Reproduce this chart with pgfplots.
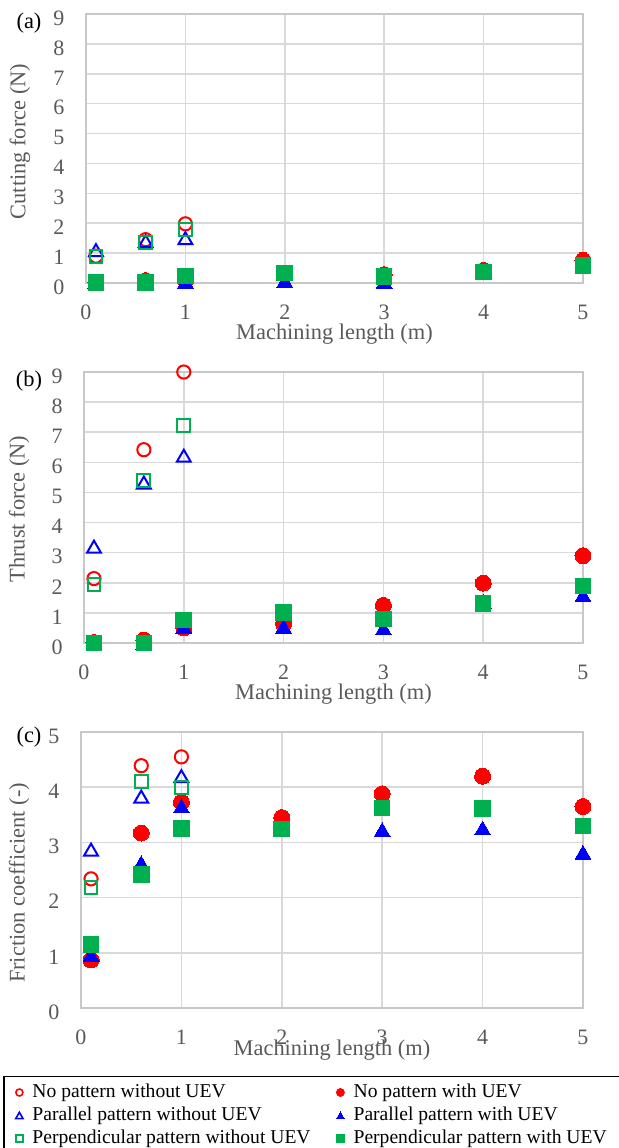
\documentclass[border=0pt]{standalone}
\usepackage{pgfplots}
\pgfplotsset{compat=1.18}
\usepackage{fontspec}
\setmainfont{Liberation Serif}
\definecolor{cred}{HTML}{FF0000}
\definecolor{cblue}{HTML}{0000FF}
\definecolor{cgreen}{HTML}{00B050}
\definecolor{tickgray}{HTML}{595959}
\definecolor{gridgray}{HTML}{D9D9D9}
\definecolor{framegray}{HTML}{C8C8C8}
\newcommand{\lbl}{\fontsize{11.2}{13}\selectfont}
\newcommand{\tlbl}{\fontsize{11}{13}\selectfont}
\newcommand{\albl}{\fontsize{11.2}{13}\selectfont}
\pgfplotsset{
  panel/.style={
    scale only axis, clip=false,
    xmin=0, xmax=5, ymin=0,
    xtick={0,1,2,3,4,5},
    grid=major,
    major grid style={draw=gridgray, line width=0.75pt},
    axis line style={draw=framegray, line width=0.9pt},
    major tick length=0pt,
    tick style={draw=none},
    tick label style={font=\tlbl, text=tickgray, inner sep=1pt},
    /pgf/number format/assume math mode=true,
    xticklabel style={anchor=center, yshift=-14.5pt},
    yticklabel style={anchor=center, xshift=-13.5pt, yshift=-2pt},
    xlabel={Machining length (m)},
    every axis x label/.style={at={(axis description cs:0.5,0)}, anchor=center, yshift=-25.5pt, inner sep=0pt, font=\albl, text=tickgray},
  },
  oc/.style={only marks, color=cred, mark=o, mark size=3.3pt, mark options={draw=cred, line width=1pt},
     legend image code/.code={\draw[cred, line width=0.8pt] (0.1cm,0cm) circle (1.75pt);}},
  fc/.style={only marks, color=cred, mark=*, mark size=4pt, mark options={draw=cred, fill=cred, line width=0pt},
     legend image code/.code={\fill[cred] (0.1cm,0cm) circle (2pt);}},
  ot/.style={only marks, color=cblue, mark=triangle, mark size=4pt, mark options={draw=cblue, line width=1pt, yshift=-1pt},
     legend image code/.code={\draw[only marks, mark=triangle, mark size=2.1pt, mark options={draw=cblue, line width=0.8pt}] plot coordinates {(0.1cm,-0.5pt)};}},
  ft/.style={only marks, color=cblue, mark=triangle*, mark size=4.6pt, mark options={draw=cblue, fill=cblue, line width=0pt, yshift=-1.1pt},
     legend image code/.code={\draw[only marks, mark=triangle*, mark size=2.3pt, mark options={draw=cblue, fill=cblue, line width=0pt}] plot coordinates {(0.1cm,-0.5pt)};}},
  os/.style={only marks, color=cgreen, mark=square, mark size=3.2pt, mark options={draw=cgreen, line width=1pt},
     legend image code/.code={\draw[cgreen, line width=0.8pt] (0.1cm-1.7pt,-1.7pt) rectangle (0.1cm+1.7pt,1.7pt);}},
  fs/.style={only marks, color=cgreen, mark=square*, mark size=3.9pt, mark options={draw=cgreen, fill=cgreen, line width=0pt},
     legend image code/.code={\fill[cgreen] (0.1cm-1.9pt,-1.9pt) rectangle (0.1cm+1.9pt,1.9pt);}},
}
\begin{document}
\begin{tikzpicture}
\useasboundingbox (0,0) rectangle (309.5pt,-574pt);
% (a)
\begin{axis}[panel, at={(43pt,-141.5pt)}, anchor=south west,
  width=248.5pt, height=134.5pt, ymax=9, ytick={0,1,...,9},
  ylabel={Cutting force (N)},
  every axis y label/.style={at={(axis description cs:-0.133,0.526)}, rotate=90, anchor=center, font=\albl, text=tickgray}]
\addplot[oc] coordinates {(0.1,0.9)(0.6,1.45)(1,1.98)};
\addplot[fc] coordinates {(0.1,0.03)(0.6,0.08)(1,0.1)(2,0.3)(3,0.28)(4,0.42)(5,0.76)};
\addplot[ot] coordinates {(0.1,1.1)(0.6,1.4)(1,1.5)};
\addplot[ft] coordinates {(0.1,0.05)(0.6,0)(1,0.05)(2,0.08)(3,0.05)(4,0.4)(5,0.6)};
\addplot[os] coordinates {(0.1,0.9)(0.6,1.35)(1,1.8)};
\addplot[fs] coordinates {(0.1,0.02)(0.6,0.02)(1,0.24)(2,0.33)(3,0.22)(4,0.37)(5,0.58)};
\end{axis}
% (b)
\begin{axis}[panel, at={(42pt,-321.5pt)}, anchor=south west,
  width=249.5pt, height=135.5pt, ymax=9, ytick={0,1,...,9},
  ylabel={Thrust force (N)},
  every axis y label/.style={at={(axis description cs:-0.130,0.494)}, rotate=90, anchor=center, font=\albl, text=tickgray}]
\addplot[oc] coordinates {(0.1,2.14)(0.6,6.42)(1,9.0)};
\addplot[fc] coordinates {(0.1,0.02)(0.6,0.1)(1,0.5)(2,0.64)(3,1.25)(4,1.99)(5,2.9)};
\addplot[ot] coordinates {(0.1,3.2)(0.6,5.33)(1,6.22)};
\addplot[ft] coordinates {(0.1,0.03)(0.6,0)(1,0.55)(2,0.55)(3,0.5)(4,1.38)(5,1.6)};
\addplot[os] coordinates {(0.1,1.94)(0.6,5.4)(1,7.22)};
\addplot[fs] coordinates {(0.1,0)(0.6,0)(1,0.76)(2,1.01)(3,0.8)(4,1.31)(5,1.89)};
\end{axis}
% (c)
\begin{axis}[panel, at={(40.5pt,-504pt)}, anchor=south west,
  width=251pt, height=138pt, ymax=5, ytick={0,1,...,5},
  ylabel={Friction coefficient (-)},
  every axis y label/.style={at={(axis description cs:-0.1235,0.453)}, rotate=90, anchor=center, font=\albl, text=tickgray},
  every axis x label/.style={at={(axis description cs:0.5,0)}, anchor=center, yshift=-21pt, inner sep=0pt, font=\albl, text=tickgray},
  legend columns=2, legend cell align=left,
  legend style={draw=none, fill=none, at={(axis description cs:-0.1321,-0.2630)}, anchor=north west,
    inner sep=0pt, font=\fontsize{9.8}{11}\selectfont, text=black,
    nodes={inner ysep=0.75pt, inner xsep=2pt, text height=7.5pt, text depth=2.5pt}, row sep=0pt,
    /tikz/every odd column/.append style={column sep=2.4pt},
    /tikz/every even column/.append style={column sep=10.7pt}}]
\addplot[oc] coordinates {(0.1,2.34)(0.6,4.39)(1,4.55)};
\addlegendentry{No pattern without UEV}
\addplot[fc] coordinates {(0.1,0.87)(0.6,3.17)(1,3.73)(2,3.45)(3,3.88)(4,4.2)(5,3.65)};
\addlegendentry{No pattern with UEV}
\addplot[ot] coordinates {(0.1,2.87)(0.6,3.83)(1,4.2)};
\addlegendentry{Parallel pattern without UEV}
\addplot[ft] coordinates {(0.1,0.97)(0.6,2.63)(1,3.66)(2,3.23)(3,3.23)(4,3.26)(5,2.82)};
\addlegendentry{Parallel pattern with UEV}
\addplot[os] coordinates {(0.1,2.18)(0.6,4.1)(1,4.0)};
\addlegendentry{Perpendicular pattern without UEV}
\addplot[fs] coordinates {(0.1,1.15)(0.6,2.42)(1,3.25)(2,3.24)(3,3.62)(4,3.61)(5,3.3)};
\addlegendentry{Perpendicular pattern with UEV}
\end{axis}
\node[font=\lbl] at (14.5pt,-11.5pt) {(a)};
\node[font=\lbl] at (14.5pt,-190.5pt) {(b)};
\node[font=\lbl] at (14.5pt,-368.5pt) {(c)};
\draw[line width=0.6pt] (2pt,-538.35pt) rectangle (318pt,-580pt);
\end{tikzpicture}
\end{document}
